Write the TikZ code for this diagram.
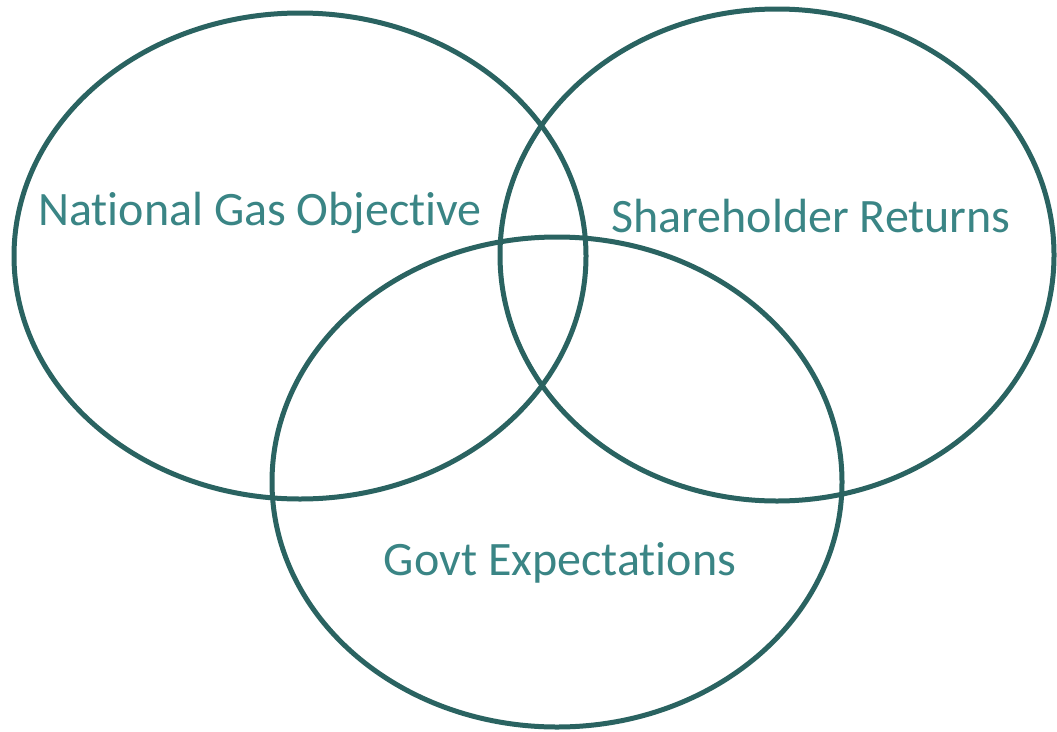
\documentclass[tikz,border=0pt]{standalone}
\usepackage{fontspec}
\setmainfont[Ligatures=NoCommon]{Carlito}
\definecolor{ringcol}{HTML}{2A6361}
\definecolor{labelcol}{HTML}{3A8585}
\begin{document}
\begin{tikzpicture}[x=1pt,y=-1pt,
  ring/.style={draw=ringcol,line width=5pt},
  lbl/.style={text=labelcol,font=\fontsize{48}{56}\selectfont,inner sep=0pt}]
\useasboundingbox (0,0) rectangle (1057,731);
\draw[ring] (300,256) ellipse [x radius=286, y radius=243];
\draw[ring] (777,255) ellipse [x radius=277, y radius=246];
\draw[ring] (557,482) ellipse [x radius=285, y radius=245];
\node[lbl] (nat) at (260,213) {National Gas Objective};
\node[lbl] (share) at (811,216) {Shareholder Returns};
\node[lbl] (govt) at (560,563) {Govt Expectations};
\end{tikzpicture}
\end{document}
